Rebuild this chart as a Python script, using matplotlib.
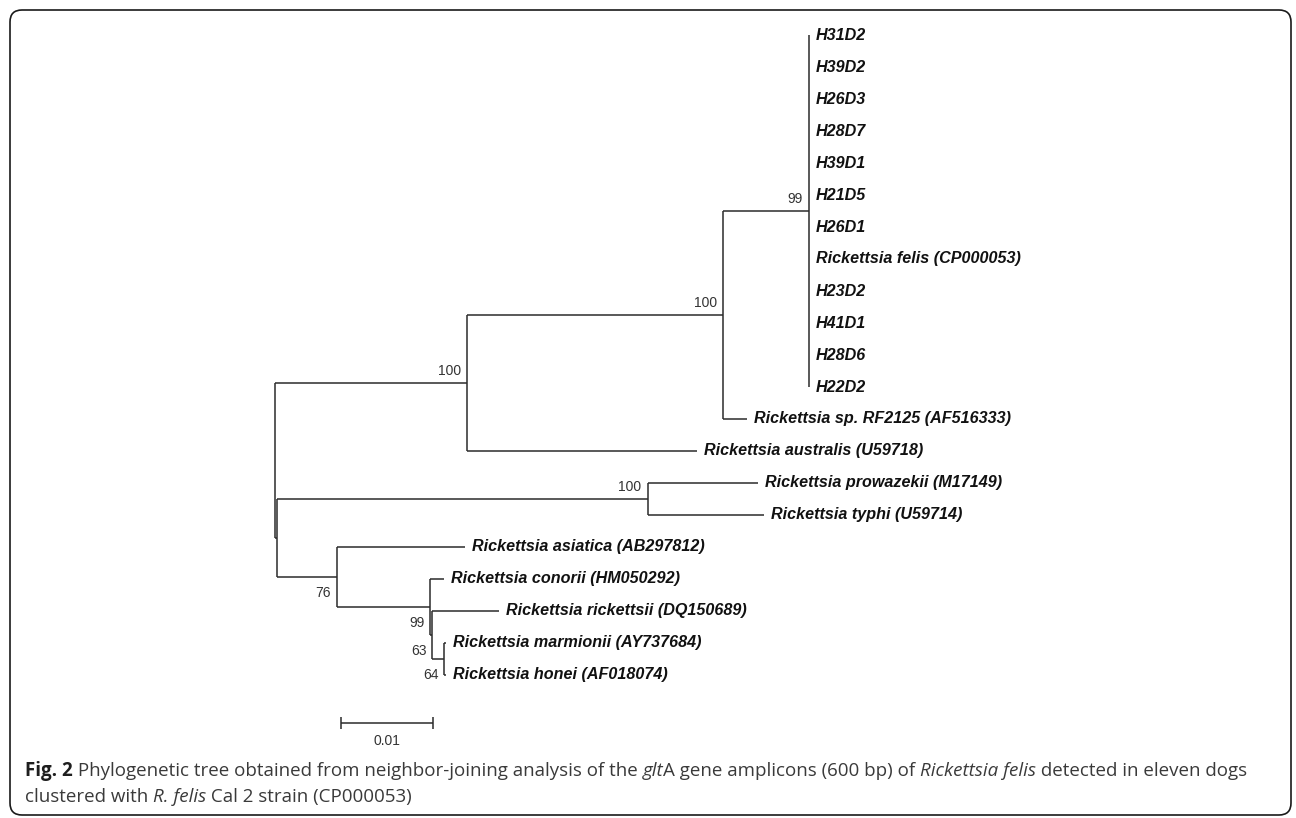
import matplotlib
matplotlib.use("Agg")
import matplotlib.pyplot as plt
from matplotlib.patches import FancyBboxPatch
from matplotlib.transforms import offset_copy

# tree as (label, branch length, bootstrap, children); leaves have no children
H_LEAVES = ["H31D2", "H39D2", "H26D3", "H28D7", "H39D1", "H21D5", "H26D1",
            "Rickettsia felis (CP000053)", "H23D2", "H41D1", "H28D6", "H22D2"]

felis_clade = ("", 0.0093, 99, [(n, 0.0, None, None) for n in H_LEAVES])
spotted = ("", 0.0065, 76, [
    ("Rickettsia asiatica (AB297812)", 0.0139, None, None),
    ("", 0.0102, 99, [
        ("Rickettsia conorii (HM050292)", 0.0015, None, None),
        ("", 0.0002, 63, [
            ("Rickettsia rickettsii (DQ150689)", 0.0073, None, None),
            ("", 0.0013, 64, [
                ("Rickettsia marmionii (AY737684)", 0.0002, None, None),
                ("Rickettsia honei (AF018074)", 0.0002, None, None),
            ]),
        ]),
    ]),
])
typhus = ("", 0.0403, 100, [
    ("Rickettsia prowazekii (M17149)", 0.0120, None, None),
    ("Rickettsia typhi (U59714)", 0.0126, None, None),
])
tree = ("", 0.0, None, [
    ("", 0.0209, 100, [
        ("", 0.0278, 100, [
            felis_clade,
            ("Rickettsia sp. RF2125 (AF516333)", 0.0026, None, None),
        ]),
        ("Rickettsia australis (U59718)", 0.0250, None, None),
    ]),
    ("", 0.0002, None, [typhus, spotted]),
])

scale_len = 0.01

fig = plt.figure(figsize=(12.96, 8.18), dpi=100)
ax = fig.add_axes([0, 0, 1, 1])
ax.set_xlim(-275 / 9200, (1296 - 275) / 9200)
ax.set_ylim((818 - 35) / 32, -35 / 32)
ax.axis("off")

line_kw = dict(color="#2b2b2b", lw=1.1, solid_capstyle="butt")
leaf_tr = offset_copy(ax.transData, fig=fig, x=7, y=0, units="dots")
above_tr = offset_copy(ax.transData, fig=fig, x=-6, y=12, units="dots")
below_tr = offset_copy(ax.transData, fig=fig, x=-6, y=-16, units="dots")
counter = [0]


def draw(node, x0, upper):
    label, bl, boot, kids = node
    x = x0 + bl
    if kids is None:
        y = counter[0]
        counter[0] += 1
        ax.text(x, y, label, transform=leaf_tr, ha="left", va="center",
                family="Liberation Sans", fontsize=11.6, fontweight="bold",
                fontstyle="italic", color="#111111")
        return x, y
    ys = []
    for i, k in enumerate(kids):
        kx, ky = draw(k, x, i == 0)
        ax.plot([x, kx], [ky, ky], **line_kw)
        ys.append(ky)
    ax.plot([x, x], [ys[0], ys[-1]], **line_kw)
    y = (ys[0] + ys[-1]) / 2
    if boot is not None:
        ax.text(x, y, str(boot), transform=above_tr if upper else below_tr,
                ha="right", va="center", family="Liberation Sans",
                fontsize=10, color="#333333")
    return x, y


draw(tree, 0.0, True)

# scale bar
sx = (341 - 275) / 9200
sy = (723 - 35) / 32
ax.plot([sx, sx + scale_len], [sy, sy], **line_kw)
ax.plot([sx, sx + scale_len], [sy, sy], ls="none", marker="|", ms=9,
        mew=1.1, color="#2b2b2b")
ax.text(sx + scale_len / 2, sy,
        f"{scale_len:g}", transform=offset_copy(ax.transData, fig=fig, x=0, y=-18, units="dots"),
        ha="center", va="center", family="Liberation Sans", fontsize=10,
        color="#333333")

# frame and caption in pixel coordinates
pa = fig.add_axes([0, 0, 1, 1], zorder=-1)
pa.set_xlim(0, 1296)
pa.set_ylim(818, 0)
pa.axis("off")
pa.add_patch(FancyBboxPatch((10, 10), 1281, 805, boxstyle="round,pad=0,rounding_size=12",
                            fill=False, ec="#1a1a1a", lw=1.2))

renderer = fig.canvas.get_renderer()


def piece_width(s, **kw):
    t1 = pa.text(0, 0, s + "|", **kw)
    t2 = pa.text(0, 0, "|", **kw)
    w = t1.get_window_extent(renderer).width - t2.get_window_extent(renderer).width
    t1.remove()
    t2.remove()
    return w


def caption_line(x, y, pieces):
    for s, style, weight, col in pieces:
        kw = dict(family="Open Sans", fontsize=13.5, fontstyle=style,
                  fontweight=weight, color=col)
        pa.text(x, y, s, ha="left", va="center", **kw)
        x += piece_width(s, **kw)


dark = "#1e1e1e"
grey = "#3a3a3a"
caption_line(25, 771, [
    ("Fig. 2", "normal", "bold", dark),
    (" Phylogenetic tree obtained from neighbor-joining analysis of the ", "normal", "normal", grey),
    ("glt", "italic", "normal", grey),
    ("A gene amplicons (600 bp) of ", "normal", "normal", grey),
    ("Rickettsia felis", "italic", "normal", grey),
    (" detected in eleven dogs", "normal", "normal", grey),
])
caption_line(25, 797, [
    ("clustered with ", "normal", "normal", grey),
    ("R. felis", "italic", "normal", grey),
    (" Cal 2 strain (CP000053)", "normal", "normal", grey),
])

fig.savefig("out.png", dpi=100)
